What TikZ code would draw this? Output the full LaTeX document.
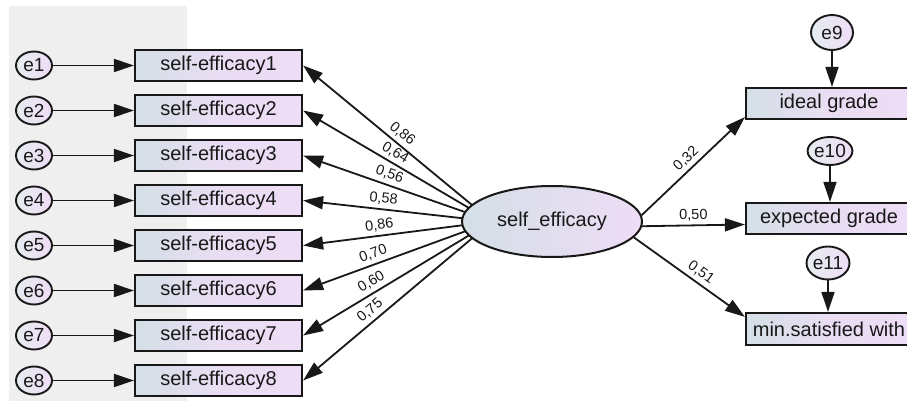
\documentclass[tikz,border=0pt]{standalone}
\usepackage{fontspec}
\setmainfont{Liberation Sans}
\usetikzlibrary{arrows.meta,shapes.geometric,calc}
\pgfdeclarelayer{background}
\pgfsetlayers{background,main}
\definecolor{cl}{RGB}{212,223,230}
\definecolor{cr}{RGB}{238,221,246}
\definecolor{panel}{RGB}{239,239,239}
\definecolor{ink}{RGB}{24,24,24}
\begin{document}
\begin{tikzpicture}[x=1pt,y=-1pt,
  tip/.tip={Triangle[length=20pt,width=13pt]},
  arr/.style={line width=1.8pt, draw=ink, -tip},
  rarr/.style={line width=1.8pt, draw=ink, tip-},
  obs/.style={draw=ink, line width=2.2pt, left color=cl, right color=cr, middle color=cr!80!cl,
    minimum width=167pt, minimum height=31pt, inner sep=0pt,
    font=\fontsize{20}{22}\selectfont, text=ink},
  robs/.style={obs, minimum width=166pt},
  err/.style={ellipse, draw=ink, line width=1.9pt, left color=cl!60!white, right color=cr,
    minimum width=36pt, minimum height=28pt, inner sep=0pt,
    font=\fontsize{19}{21}\selectfont, text=ink},
  latent/.style={ellipse, draw=ink, line width=2pt, left color=cl, right color=cr,
    minimum width=180pt, minimum height=71pt, inner sep=0pt,
    font=\fontsize{20}{22}\selectfont, text=ink},
  coef/.style={font=\fontsize{14.5}{16}\selectfont, text=ink, sloped, anchor=south, inner sep=3.5pt},
]
\useasboundingbox (0,0) rectangle (907,401);
\clip (0,0) rectangle (907,401);

% observed indicators (left)
\foreach \i in {1,...,8}{
  \node[obs] (b\i) at (218.5,{65.5+45*(\i-1)}) {self-efficacy\i};
  \node[err] (e\i) at (34,{65.5+45*(\i-1)}) {e\i};
  \draw[arr] (e\i) -- (b\i);
}

% latent variable
\node[latent] (se) at (552,221.5) {self\_efficacy};
\coordinate (lf) at (492,221.5);

% right observed variables
\node[robs] (ig) at (829,103.5) {ideal grade};
\node[robs] (eg) at (829,218.5) {expected grade};
\node[robs, minimum height=32pt] (ms) at (829,329) {min.satisfied with};

\node[err, minimum width=42pt, minimum height=35pt] (e9) at (832,32.5) {e9};
\node[err, minimum width=41pt, minimum height=28pt] (e10) at (830,151) {e10};
\node[err, minimum width=43pt, minimum height=33pt] (e11) at (828,263) {e11};

\draw[arr] (e9) -- (e9 |- ig.north);
\draw[arr] (e10) -- (e10 |- eg.north);
\draw[arr] (e11) -- (e11 |- ms.north);

\draw[arr] (se.4) -- ($(ig.south west)+(0,-3)$) node[coef,pos=0.5] {0,32};
\draw[arr] (se.-3.5) -- ($(eg.west)+(0,6)$) node[coef,pos=0.5] {0,50};
\draw[arr] (se.-11) -- ($(ms.north west)+(0,5)$) node[coef,pos=0.55] {0,51};

\begin{pgfonlayer}{background}
  \fill[panel] (9,6) rectangle (187,401);
  \draw[rarr] (b1.east) -- (lf) node[coef,pos=0.49] {0,86};
  \draw[rarr] (b2.east) -- (lf) node[coef,pos=0.46] {0,64};
  \draw[rarr] (b3.east) -- (lf) node[coef,pos=0.44] {0,56};
  \draw[rarr] (b4.east) -- (lf) node[coef,pos=0.42] {0,58};
  \draw[rarr] (b5.east) -- (lf) node[coef,pos=0.41] {0,86};
  \draw[rarr] (b6.east) -- (lf) node[coef,pos=0.39] {0,70};
  \draw[rarr] (b7.east) -- (lf) node[coef,pos=0.39] {0,60};
  \draw[rarr] (b8.east) -- (lf) node[coef,pos=0.39] {0,75};
\end{pgfonlayer}
\end{tikzpicture}
\end{document}
